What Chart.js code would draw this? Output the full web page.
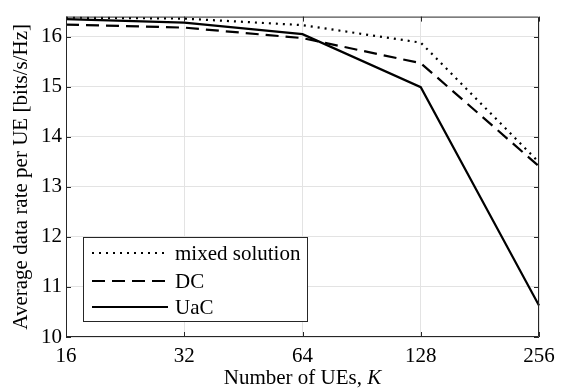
<!DOCTYPE html>
<html>
<head>
<meta charset="utf-8">
<script src="https://cdn.jsdelivr.net/npm/chart.js@4"></script>
<style>
  html, body { margin: 0; padding: 0; background: #fff; }
  #wrap { width: 565px; height: 389px; }
</style>
</head>
<body>
<div id="wrap"><canvas id="rateChart" width="565" height="389"></canvas></div>
<script>
// datos
const numUEs = ['16', '32', '64', '128', '256'];
const mixedSolution = [16.38, 16.36, 16.23, 15.88, 13.49];
const dcRate = [16.24, 16.18, 15.97, 15.47, 13.41];
const uacRate = [16.35, 16.28, 16.05, 14.99, 10.63];
const yTicks = [10, 11, 12, 13, 14, 15, 16];

const serif = "'Liberation Serif', 'DejaVu Serif', serif";
const fontSize = 21;
const axisColor = '#262626';

// caja del grafico, marcas hacia dentro, leyenda y titulo del eje x
const boxPlugin = {
    id: 'boxPlugin',
    afterDraw(chart) {
        const ctx = chart.ctx;
        const a = chart.chartArea;
        const xs = chart.scales.x, ys = chart.scales.y;
        ctx.save();
        ctx.strokeStyle = axisColor;
        ctx.lineWidth = 1;
        ctx.beginPath();
        ctx.rect(a.left + 0.5, a.top + 0.5, a.right - a.left - 1, a.bottom - a.top - 1);
        ctx.stroke();
        const tl = 5;
        ctx.beginPath();
        numUEs.forEach((_, i) => {
            const px = Math.round(xs.getPixelForValue(i)) + 0.5;
            ctx.moveTo(px, a.bottom); ctx.lineTo(px, a.bottom - tl);
            ctx.moveTo(px, a.top); ctx.lineTo(px, a.top + tl);
        });
        yTicks.forEach(v => {
            const py = Math.round(ys.getPixelForValue(v)) + 0.5;
            ctx.moveTo(a.left, py); ctx.lineTo(a.left + tl, py);
            ctx.moveTo(a.right, py); ctx.lineTo(a.right - tl, py);
        });
        ctx.stroke();

        // leyenda
        const lx = a.left + 17, ly = a.bottom - 100, lw = 224, lh = 84;
        ctx.fillStyle = '#fff';
        ctx.fillRect(lx, ly, lw, lh);
        ctx.strokeRect(lx + 0.5, ly + 0.5, lw, lh);
        ctx.font = fontSize + 'px ' + serif;
        ctx.textBaseline = 'middle';
        ctx.textAlign = 'left';
        const rows = [16, 44, 70];
        chart.data.datasets.forEach((ds, i) => {
            const y = ly + rows[i];
            ctx.strokeStyle = ds.borderColor;
            ctx.lineWidth = ds.borderWidth;
            ctx.setLineDash(ds.borderDash || []);
            ctx.beginPath();
            ctx.moveTo(lx + 9, y); ctx.lineTo(lx + 85, y);
            ctx.stroke();
            ctx.setLineDash([]);
            ctx.fillStyle = '#000';
            ctx.fillText(ds.label, lx + 92, y + 1);
        });

        // titulo eje x con K en cursiva
        const t1 = 'Number of UEs, ';
        const t2 = 'K';
        ctx.font = fontSize + 'px ' + serif;
        const w1 = ctx.measureText(t1).width;
        ctx.font = 'italic ' + fontSize + 'px ' + serif;
        const w2 = ctx.measureText(t2).width;
        const cx = (a.left + a.right) / 2 - (w1 + w2) / 2;
        ctx.fillStyle = '#000';
        ctx.textBaseline = 'middle';
        ctx.font = fontSize + 'px ' + serif;
        ctx.fillText(t1, cx, 378);
        ctx.font = 'italic ' + fontSize + 'px ' + serif;
        ctx.fillText(t2, cx + w1, 378);
        ctx.restore();
    }
};

function init_chart() {
    const ctx = document.getElementById('rateChart').getContext('2d');
    new Chart(ctx, {
        type: 'line',
        data: {
            labels: numUEs,
            datasets: [{
                label: 'mixed solution',
                data: mixedSolution,
                borderColor: '#000',
                borderWidth: 2.2,
                borderDash: [2, 5],
                pointRadius: 0,
                fill: false
            }, {
                label: 'DC',
                data: dcRate,
                borderColor: '#000',
                borderWidth: 2.2,
                borderDash: [13, 7],
                pointRadius: 0,
                fill: false
            }, {
                label: 'UaC',
                data: uacRate,
                borderColor: '#000',
                borderWidth: 2.2,
                pointRadius: 0,
                fill: false
            }]
        },
        options: {
            responsive: false,
            animation: false,
            layout: { padding: { top: 11, right: 26, left: 0, bottom: 0 } },
            plugins: {
                legend: { display: false },
                tooltip: { enabled: false }
            },
            scales: {
                x: {
                    type: 'category',
                    offset: false,
                    grid: { color: '#e3e3e3', drawTicks: false },
                    border: { display: false },
                    ticks: {
                        color: '#000',
                        padding: 7,
                        maxRotation: 0,
                        font: { size: fontSize, family: serif }
                    },
                    afterFit(scale) { scale.height = 52; }
                },
                y: {
                    min: 10,
                    max: 16.4,
                    grid: { color: '#e3e3e3', drawTicks: false },
                    border: { display: false },
                    afterBuildTicks(scale) { scale.ticks = yTicks.map(v => ({ value: v })); },
                    ticks: {
                        color: '#000',
                        padding: 4,
                        font: { size: fontSize, family: serif }
                    },
                    title: {
                        display: true,
                        text: 'Average data rate per UE [bits/s/Hz]',
                        color: '#000',
                        padding: { top: 9, bottom: 0 },
                        font: { size: fontSize, family: serif }
                    },
                    afterFit(scale) { scale.width = 66; }
                }
            }
        },
        plugins: [boxPlugin]
    });
}

init_chart();
</script>
</body>
</html>
